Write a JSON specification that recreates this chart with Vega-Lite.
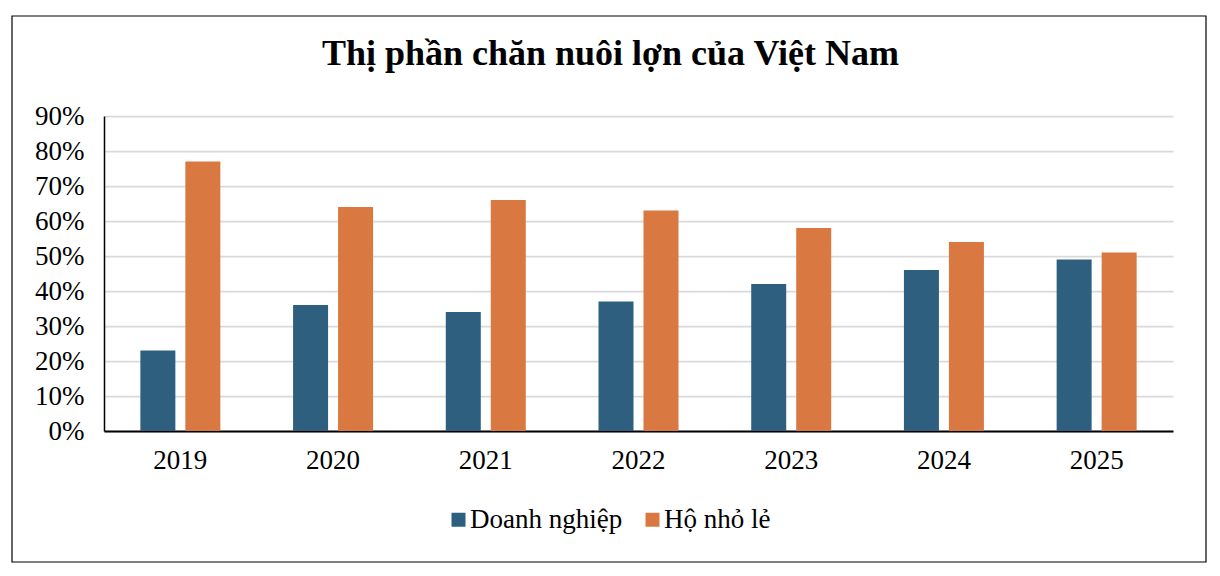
{
  "$schema": "https://vega.github.io/schema/vega-lite/v6.json",
  "autosize": {"type": "none"},
  "width": 1069,
  "height": 315,
  "padding": {"left": 104, "top": 116, "right": 47, "bottom": 145},
  "background": "white",
  "title": {
    "text": "Thị phần chăn nuôi lợn của Việt Nam",
    "font": "Liberation Serif",
    "fontSize": 36,
    "fontWeight": "bold",
    "color": "black",
    "anchor": "middle",
    "baseline": "alphabetic",
    "dx": -28,
    "offset": -86
  },
  "config": {
    "font": "Liberation Serif",
    "view": {"stroke": null},
    "axis": {"labelFont": "Liberation Serif", "labelColor": "black", "labelFontSize": 27, "ticks": false, "tickSize": 0, "title": null},
    "legend": {"labelFont": "Liberation Serif", "labelColor": "black", "labelFontSize": 27}
  },
  "layer": [
    {
      "data": {"values": [{"part": "frame"}]},
      "mark": {"type": "rect", "fill": null, "stroke": "black", "strokeWidth": 1.2},
      "encoding": {
        "x": {"value": -92},
        "x2": {"value": 1102},
        "y": {"value": -100},
        "y2": {"value": 446}
      }
    },
    {
      "data": {"values": [
        {"year": "2019", "series": "Doanh nghiệp", "share": 23},
        {"year": "2019", "series": "Hộ nhỏ lẻ", "share": 77},
        {"year": "2020", "series": "Doanh nghiệp", "share": 36},
        {"year": "2020", "series": "Hộ nhỏ lẻ", "share": 64},
        {"year": "2021", "series": "Doanh nghiệp", "share": 34},
        {"year": "2021", "series": "Hộ nhỏ lẻ", "share": 66},
        {"year": "2022", "series": "Doanh nghiệp", "share": 37},
        {"year": "2022", "series": "Hộ nhỏ lẻ", "share": 63},
        {"year": "2023", "series": "Doanh nghiệp", "share": 42},
        {"year": "2023", "series": "Hộ nhỏ lẻ", "share": 58},
        {"year": "2024", "series": "Doanh nghiệp", "share": 46},
        {"year": "2024", "series": "Hộ nhỏ lẻ", "share": 54},
        {"year": "2025", "series": "Doanh nghiệp", "share": 49},
        {"year": "2025", "series": "Hộ nhỏ lẻ", "share": 51}
      ]},
      "mark": {"type": "bar"},
      "encoding": {
        "x": {
          "field": "year", "type": "nominal",
          "scale": {"paddingInner": 0, "paddingOuter": 0},
          "axis": {"labelAngle": 0, "labelPadding": 16, "domainColor": "black", "domainWidth": 2.2, "grid": false}
        },
        "xOffset": {
          "field": "series", "type": "nominal",
          "scale": {"domain": ["Doanh nghiệp", "Hộ nhỏ lẻ"], "paddingInner": 0.222, "paddingOuter": 0.808}
        },
        "y": {
          "field": "share", "type": "quantitative",
          "scale": {"domain": [0, 90], "nice": false},
          "axis": {"values": [0, 10, 20, 30, 40, 50, 60, 70, 80, 90], "labelExpr": "datum.value + '%'", "labelPadding": 20, "domainColor": "black", "domainWidth": 1.5, "grid": true, "gridColor": "#D9D9D9", "gridWidth": 1.75}
        },
        "color": {
          "field": "series", "type": "nominal",
          "scale": {"domain": ["Doanh nghiệp", "Hộ nhỏ lẻ"], "range": ["#2F5F7F", "#D97941"]},
          "legend": {"title": null, "orient": "none", "direction": "horizontal", "legendX": 341, "legendY": 390, "symbolType": "square", "symbolSize": 196, "symbolStrokeWidth": 0, "labelOffset": -2, "columnPadding": 16, "padding": 0, "labelFont": "Liberation Serif", "labelFontSize": 27}
        }
      }
    }
  ]
}
